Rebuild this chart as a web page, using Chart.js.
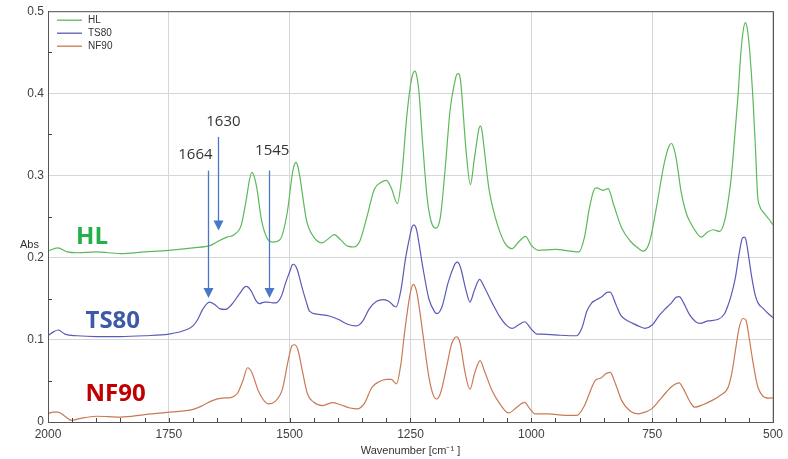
<!DOCTYPE html>
<html><head><meta charset="utf-8">
<script src="https://cdn.jsdelivr.net/npm/chart.js@4/dist/chart.umd.min.js"></script>
<style>html,body{margin:0;padding:0;background:#fff}#wrap{width:788px;height:459px;position:relative}</style>
</head><body><div id="wrap"><canvas id="c"></canvas></div>
<script>
const seriesNames = ['HL', 'TS80', 'NF90'];
const xTickValues = [2000, 1750, 1500, 1250, 1000, 750, 500];
const yTickValues = [0, 0.1, 0.2, 0.3, 0.4, 0.5];
const yTickLabels = ['0', '0.1', '0.2', '0.3', '0.4', '0.5'];
const markerBands = ['1664', '1630', '1545'];

const hlWave = [2000,1980,1960,1940,1900,1850,1800,1750,1700,1664,1645,1630,1615,1600,1590,1583,1578,1573,1568,1558,1545,1535,1520,1505,1495,1491,1487,1483,1478,1465,1450,1433,1420,1408,1395,1380,1367,1355,1340,1325,1310,1300,1290,1277,1268,1258,1250,1246,1241,1237,1233,1225,1215,1205,1197,1188,1178,1168,1158,1155,1151,1147,1144,1135,1126,1118,1110,1108,1105,1102,1098,1088,1081,1070,1055,1040,1025,1012,1000,985,950,920,902,890,880,870,865,852,841,830,813,795,780,768,755,740,725,715,710,705,700,690,680,672,660,648,636,624,610,600,593,586,579,572,567,562,557,553,548,541,536,532,527,521,510,500];
const hlAbs = [0.208,0.212,0.207,0.206,0.207,0.205,0.207,0.209,0.212,0.215,0.221,0.225,0.228,0.240,0.270,0.295,0.304,0.298,0.285,0.245,0.222,0.219,0.222,0.255,0.300,0.312,0.316,0.311,0.295,0.245,0.225,0.218,0.223,0.228,0.222,0.214,0.213,0.220,0.250,0.283,0.292,0.294,0.285,0.266,0.300,0.370,0.410,0.422,0.427,0.421,0.405,0.340,0.270,0.240,0.236,0.250,0.310,0.380,0.415,0.422,0.424,0.418,0.400,0.330,0.289,0.320,0.352,0.358,0.360,0.354,0.335,0.285,0.264,0.240,0.218,0.211,0.220,0.226,0.215,0.209,0.210,0.208,0.207,0.225,0.260,0.283,0.285,0.282,0.284,0.265,0.236,0.220,0.212,0.208,0.220,0.265,0.315,0.336,0.339,0.333,0.320,0.280,0.255,0.244,0.232,0.225,0.231,0.234,0.232,0.245,0.268,0.300,0.349,0.400,0.445,0.475,0.486,0.478,0.450,0.389,0.330,0.277,0.262,0.256,0.248,0.240];

const ts80Wave = [2000,1988,1979,1965,1940,1900,1850,1800,1750,1720,1700,1690,1680,1666,1655,1645,1633,1620,1605,1590,1580,1570,1563,1552,1545,1535,1528,1518,1508,1498,1495,1492,1488,1484,1475,1465,1459,1440,1418,1400,1380,1363,1350,1335,1320,1305,1295,1280,1270,1260,1250,1247,1243,1239,1236,1225,1212,1200,1195,1185,1172,1160,1157,1153,1149,1145,1135,1127,1118,1107,1098,1081,1065,1050,1040,1027,1014,1000,988,978,950,920,906,895,885,875,868,855,842,837,825,815,806,790,775,765,750,735,724,710,700,694,685,672,660,651,635,613,600,593,586,578,570,563,559,556,553,545,537,531,520,510,500];
const ts80Abs = [0.105,0.110,0.112,0.107,0.105,0.104,0.104,0.105,0.107,0.111,0.117,0.125,0.137,0.146,0.143,0.138,0.137,0.143,0.155,0.165,0.160,0.148,0.144,0.146,0.146,0.145,0.145,0.152,0.170,0.186,0.191,0.192,0.190,0.185,0.165,0.145,0.135,0.131,0.129,0.125,0.119,0.117,0.122,0.138,0.147,0.149,0.147,0.140,0.160,0.200,0.230,0.237,0.240,0.237,0.230,0.190,0.150,0.134,0.132,0.140,0.170,0.190,0.193,0.1945,0.192,0.185,0.160,0.146,0.160,0.1736,0.165,0.145,0.128,0.117,0.114,0.118,0.122,0.113,0.107,0.107,0.106,0.105,0.105,0.115,0.135,0.145,0.148,0.152,0.158,0.158,0.143,0.130,0.125,0.120,0.116,0.114,0.118,0.130,0.137,0.145,0.152,0.1525,0.145,0.130,0.122,0.120,0.123,0.125,0.132,0.142,0.155,0.175,0.205,0.224,0.225,0.222,0.212,0.180,0.155,0.145,0.138,0.132,0.127];

const nf90Wave = [2000,1990,1979,1965,1951,1935,1900,1850,1800,1748,1700,1680,1660,1640,1620,1608,1597,1587,1578,1565,1552,1543,1530,1515,1503,1495,1490,1483,1473,1463,1450,1432,1411,1395,1375,1360,1345,1330,1315,1300,1290,1279,1270,1262,1252,1248,1244,1240,1236,1225,1212,1203,1196,1188,1176,1165,1159,1155,1151,1147,1137,1127,1117,1106,1097,1081,1065,1047,1030,1014,1003,992,964,930,906,890,875,868,855,845,837,825,813,795,779,765,751,730,710,694,685,672,662,645,627,610,593,585,577,570,562,556,550,542,535,531,522,517,508,500];
const nf90Abs = [0.010,0.012,0.012,0.007,0.002,0.004,0.007,0.006,0.009,0.012,0.0154,0.020,0.026,0.029,0.030,0.035,0.050,0.066,0.060,0.038,0.025,0.022,0.025,0.040,0.075,0.093,0.094,0.088,0.060,0.034,0.024,0.020,0.0235,0.021,0.017,0.016,0.023,0.042,0.049,0.052,0.052,0.0465,0.070,0.110,0.152,0.163,0.1675,0.164,0.155,0.110,0.055,0.033,0.028,0.035,0.065,0.095,0.102,0.1037,0.102,0.095,0.060,0.040,0.060,0.0747,0.062,0.038,0.022,0.011,0.018,0.024,0.016,0.010,0.010,0.008,0.008,0.020,0.042,0.0505,0.054,0.059,0.0605,0.045,0.026,0.013,0.010,0.012,0.016,0.030,0.043,0.0477,0.040,0.025,0.018,0.021,0.026,0.032,0.042,0.060,0.090,0.115,0.126,0.124,0.105,0.075,0.052,0.042,0.032,0.030,0.029,0.0295];

const lineColors = ['#5cb85a', '#5a5ab8', '#c87a55'];
const tagColors = ['#22b04b', '#3d5aa6', '#c00000'];

function pts(w, a) { return w.map((v, i) => ({ x: v, y: a[i] })); }
const seriesData = [pts(hlWave, hlAbs), pts(ts80Wave, ts80Abs), pts(nf90Wave, nf90Abs)];

// annotation placement (data coordinates)
const tagPos = [[1909, 0.2248], [1866, 0.123], [1860, 0.034]];
const arrows = [
  { x: 1668, y0: 0.306, y1: 0.151, tx: 1695, ty: 0.3253 },
  { x: 1649, y0: 0.347, y1: 0.233, tx: 1637, ty: 0.3653 },
  { x: 1542, y0: 0.306, y1: 0.151, tx: 1536, ty: 0.330 }
];

const decor = {
  id: 'decor',
  afterDraw(chart) {
    const { ctx, chartArea: ca, scales: { x, y } } = chart;
    ctx.save();
    ctx.strokeStyle = '#555';
    ctx.lineWidth = 1;
    ctx.strokeRect(ca.left + 0.5, ca.top + 0.5, ca.right - ca.left, ca.bottom - ca.top);
    ctx.strokeStyle = '#444';
    ctx.beginPath();
    for (let w = 550; w < 2000; w += 50) {
      const px = Math.round(x.getPixelForValue(w)) + 0.5;
      ctx.moveTo(px, ca.bottom); ctx.lineTo(px, ca.bottom - 4);
    }
    for (let v = 0.05; v < 0.5; v += 0.1) {
      const py = Math.round(y.getPixelForValue(v)) + 0.5;
      ctx.moveTo(ca.left, py); ctx.lineTo(ca.left + 4, py);
    }
    ctx.stroke();
    ctx.font = '10px "Liberation Sans", Arial, sans-serif';
    ctx.textBaseline = 'middle';
    ctx.textAlign = 'left';
    seriesNames.forEach((n, i) => {
      const yy = ca.top + 9 + i * 13;
      ctx.strokeStyle = lineColors[i];
      ctx.lineWidth = 1.3;
      ctx.beginPath(); ctx.moveTo(ca.left + 9, yy); ctx.lineTo(ca.left + 34, yy); ctx.stroke();
      ctx.fillStyle = '#333';
      ctx.fillText(n, ca.left + 40, yy);
    });
    ctx.font = 'bold 24px "Open Sans", sans-serif';
    ctx.textAlign = 'center';
    seriesNames.forEach((n, i) => {
      ctx.fillStyle = tagColors[i];
      ctx.fillText(n, x.getPixelForValue(tagPos[i][0]), y.getPixelForValue(tagPos[i][1]));
    });
    ctx.font = '15px "Open Sans", sans-serif';
    arrows.forEach((a, i) => {
      const px = Math.round(x.getPixelForValue(a.x)) + 0.5;
      const p0 = y.getPixelForValue(a.y0), p1 = y.getPixelForValue(a.y1);
      ctx.strokeStyle = '#4a78c8';
      ctx.fillStyle = '#4a78c8';
      ctx.lineWidth = 1.3;
      ctx.beginPath(); ctx.moveTo(px, p0); ctx.lineTo(px, p1 - 9); ctx.stroke();
      ctx.beginPath(); ctx.moveTo(px - 5, p1 - 10); ctx.lineTo(px + 5, p1 - 10); ctx.lineTo(px, p1); ctx.closePath(); ctx.fill();
      ctx.fillStyle = '#333';
      ctx.fillText(markerBands[i], x.getPixelForValue(a.tx), y.getPixelForValue(a.ty));
    });
    ctx.fillStyle = '#333';
    ctx.font = '11px "Liberation Sans", Arial, sans-serif';
    ctx.textAlign = 'left';
    ctx.fillText('Abs', 20, 245);
    ctx.textAlign = 'center';
    ctx.fillText('Wavenumber [cm\u207B\u00B9 ]', (ca.left + ca.right) / 2, 451);
    ctx.restore();
  }
};

new Chart(document.getElementById('c'), {
  type: 'line',
  data: {
    datasets: seriesNames.map((n, i) => ({
      label: n,
      data: seriesData[i],
      borderColor: lineColors[i],
      borderWidth: 1.2,
      pointRadius: 0,
      fill: false,
      cubicInterpolationMode: 'monotone'
    }))
  },
  options: {
    responsive: true,
    maintainAspectRatio: false,
    animation: false,
    layout: { padding: { top: 9, right: 13, left: 0, bottom: 0 } },
    plugins: { legend: { display: false }, tooltip: { enabled: false } },
    scales: {
      x: {
        type: 'linear', reverse: true, min: 500, max: 2000,
        afterBuildTicks: s => { s.ticks = xTickValues.map(v => ({ value: v })); },
        afterFit: s => { s.height = 37; },
        ticks: { font: { size: 12, family: '"Liberation Sans", Arial, sans-serif' }, color: '#404040', padding: 5, maxRotation: 0, callback: v => String(v) },
        grid: { color: '#d6d6d6', drawTicks: false },
        border: { color: '#555', width: 1 }
      },
      y: {
        min: 0, max: 0.5,
        afterBuildTicks: s => { s.ticks = yTickValues.map(v => ({ value: v })); },
        afterFit: s => { s.width = 48; },
        ticks: { font: { size: 12, family: '"Liberation Sans", Arial, sans-serif' }, color: '#404040', padding: 4,
          callback: v => yTickLabels[yTickValues.findIndex(t => Math.abs(t - v) < 1e-9)] },
        grid: { color: '#d6d6d6', drawTicks: false },
        border: { color: '#555', width: 1 }
      }
    }
  },
  plugins: [decor]
});
</script></body></html>
